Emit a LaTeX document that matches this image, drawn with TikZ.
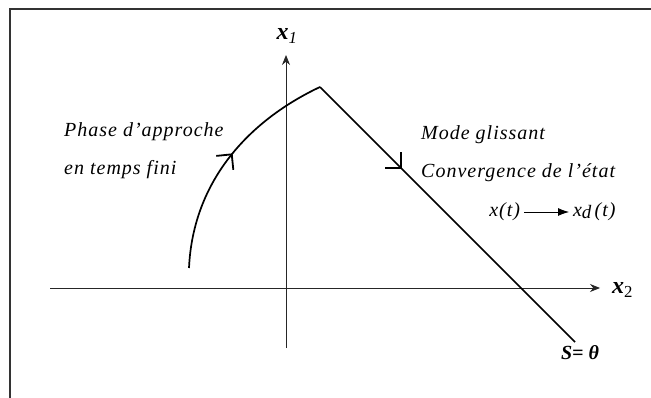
\documentclass[tikz,border=0pt]{standalone}
\usepackage{fontspec}
\setmainfont{Liberation Serif}
\usetikzlibrary{arrows.meta,decorations.markings}

\begin{document}
\begin{tikzpicture}[x=1pt,y=-1pt,
  every node/.style={font=\itshape\fontsize{20}{22}\selectfont\addfontfeature{LetterSpace=5},inner sep=0pt},
  axislab/.style={font=\bfseries\itshape\fontsize{24}{26}\selectfont},
  axis/.style={-{Stealth[length=10pt,width=8pt]},line width=0.9pt,black!85},
  traj/.style={line width=1.7pt},
  midbarb/.style={postaction={decorate},decoration={markings,
    mark=at position #1 with {\arrow{Straight Barb[length=11pt,width=22pt,line width=1.8pt]}}}}]
  \useasboundingbox (0,0) rectangle (651,398);
  %% Frame
  \draw[line width=2pt,black!80] (10,398) -- (10,9) -- (651,9);
  %% Axes
  \coordinate (x2left)  at (50,288);
  \coordinate (x2right) at (600,288);
  \coordinate (x1bot)   at (286,348);
  \coordinate (x1top)   at (286,55);
  \draw[axis] (x2left) -- (x2right);
  \draw[axis] (x1bot) -- (x1top);
  \node[axislab] (x1lab) at (287,36) {x\textsubscript{\itshape\mdseries 1}};
  \node[axislab,anchor=west] (x2lab) at (612,290) {x\textsubscript{\mdseries\upshape 2}};
  %% Trajectory
  \coordinate (start) at (189,268);
  \coordinate (peak)  at (320,87);
  \coordinate (send)  at (575,342);
  \draw[traj,midbarb=0.53] (start) .. controls (193,180) and (250,120) .. (peak);
  \draw[traj,midbarb=0.32] (peak) -- (send);
  \node[font=\bfseries\itshape\fontsize{20}{22}\selectfont] (surf) at (580,353) {S= θ};
  %% Phases
  \node[anchor=west] (approche) at (64,132) {Phase d'approche};
  \node[anchor=west] (fini)     at (64,170) {en temps fini};
  \node[anchor=west] (glissant) at (421,135) {Mode glissant};
  \node[anchor=west] (conv)     at (421,173) {Convergence de l'état};
  \node[anchor=east,outer sep=4pt] (xt)  at (524,212) {x(t)};
  \node[anchor=west,outer sep=4pt] (xdt) at (569,212) {x{\fontsize{19}{19}\selectfont\raisebox{-2pt}{d}}\,(t)};
  \draw[-{Latex[length=11pt,width=8pt]},line width=0.8pt] (xt) -- (xdt);
\end{tikzpicture}
\end{document}
